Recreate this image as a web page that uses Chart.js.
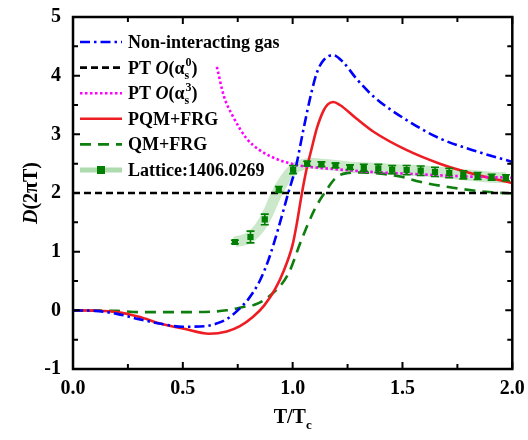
<!DOCTYPE html>
<html>
<head>
<meta charset="utf-8">
<script src="https://cdn.jsdelivr.net/npm/chart.js@4.4.0/dist/chart.umd.min.js"></script>
<style>
  html, body { margin: 0; padding: 0; background: #fff; }
  canvas { display: block; }
</style>
</head>
<body>
<canvas id="chart" width="528" height="440"></canvas>
<script>
// --- data (T/Tc vs D(2piT)) ---
const freeT = [0, 0.1, 0.2, 0.3, 0.4, 0.5, 0.6, 0.65, 0.7, 0.75, 0.8, 0.85, 0.89, 0.935, 0.98, 1.015, 1.05, 1.086, 1.11, 1.14, 1.185, 1.23, 1.29, 1.37, 1.52, 1.67, 1.82, 2.0];
const freeD = [0, -0.01, -0.06, -0.15, -0.23, -0.28, -0.27, -0.23, -0.15, 0.0, 0.2, 0.5, 0.86, 1.4, 2.0, 2.45, 3.1, 3.72, 4.05, 4.26, 4.35, 4.23, 3.95, 3.64, 3.24, 2.93, 2.73, 2.53];

const pt0T = [0, 2.0];
const pt0D = [2, 2];

const pt3T = [0.655, 0.687, 0.729, 0.79, 0.85, 0.94, 1.03, 1.15, 1.28, 1.4, 1.52, 1.73, 2.0];
const pt3D = [4.15, 3.65, 3.30, 2.93, 2.73, 2.56, 2.47, 2.42, 2.38, 2.35, 2.33, 2.29, 2.26];

const pqmT = [0, 0.1, 0.2, 0.3, 0.4, 0.5, 0.62, 0.7, 0.76, 0.82, 0.87, 0.92, 0.96, 1.0, 1.02, 1.04, 1.063, 1.086, 1.11, 1.14, 1.16, 1.185, 1.215, 1.29, 1.37, 1.52, 1.67, 1.82, 2.0];
const pqmD = [0, -0.005, -0.03, -0.11, -0.23, -0.31, -0.40, -0.36, -0.27, -0.11, 0.08, 0.36, 0.68, 1.12, 1.5, 1.95, 2.4, 2.75, 3.1, 3.4, 3.51, 3.55, 3.5, 3.27, 3.04, 2.73, 2.5, 2.33, 2.17];

const qmT = [0, 0.2, 0.3, 0.4, 0.55, 0.7, 0.79, 0.83, 0.9, 0.98, 1.04, 1.1, 1.145, 1.2, 1.25, 1.3, 1.4, 1.49, 1.58, 1.73, 1.88, 2.0];
const qmD = [0, -0.01, -0.03, -0.03, -0.03, 0.0, 0.07, 0.1, 0.26, 0.62, 1.2, 1.72, 2.0, 2.27, 2.34, 2.35, 2.33, 2.28, 2.19, 2.09, 2.02, 1.99];

const latT = [0.737, 0.808, 0.873, 0.937, 1.002, 1.066, 1.131, 1.195, 1.261, 1.324, 1.39, 1.453, 1.519, 1.583, 1.648, 1.713, 1.777, 1.842, 1.906, 1.971];
const latD = [1.165, 1.25, 1.55, 2.06, 2.40, 2.50, 2.49, 2.47, 2.44, 2.43, 2.42, 2.40, 2.39, 2.38, 2.36, 2.34, 2.31, 2.29, 2.27, 2.26];
const latErr = [0.03, 0.1, 0.09, 0.05, 0.07, 0.04, 0.04, 0.04, 0.04, 0.06, 0.07, 0.07, 0.08, 0.08, 0.08, 0.08, 0.07, 0.06, 0.05, 0.05];

const xTickLabels = ['0.0', '0.5', '1.0', '1.5', '2.0'];
const yTickLabels = ['-1', '0', '1', '2', '3', '4', '5'];

const FONT = '"Liberation Serif", "Times New Roman", serif';

const pts = (xs, ys) => xs.map((v, i) => ({ x: v, y: ys[i] }));

const BLUE = '#0000ff', BLACK = '#000000', PINK = '#ff00ff', RED = '#ee1d23', GREEN = '#0e7f0e';
const BAND = 'rgba(130,200,130,0.42)', MARK = '#007f00';

// draw text made of parts (italic / sub / sup) on the canvas
function richWidth(ctx, parts, size) {
  let w = 0;
  parts.forEach(p => {
    if (p.sub !== undefined) {
      ctx.font = `bold ${Math.round(size * 0.65)}px ${FONT}`;
      w += Math.max(ctx.measureText(p.sub).width, ctx.measureText(p.sup || '').width);
    } else {
      ctx.font = `${p.italic ? 'italic ' : ''}bold ${size}px ${FONT}`;
      w += ctx.measureText(p.t).width;
    }
  });
  return w;
}
function drawRich(ctx, parts, x, y, size) {
  ctx.textBaseline = 'alphabetic';
  ctx.textAlign = 'left';
  parts.forEach(p => {
    if (p.sub !== undefined) {
      ctx.font = `bold ${Math.round(size * 0.65)}px ${FONT}`;
      ctx.fillText(p.sub, x, y + size * 0.28);
      if (p.sup) ctx.fillText(p.sup, x + 1, y - size * 0.45);
      x += Math.max(ctx.measureText(p.sub).width, ctx.measureText(p.sup || '').width) + 1;
    } else {
      ctx.font = `${p.italic ? 'italic ' : ''}bold ${size}px ${FONT}`;
      ctx.fillText(p.t, x, y);
      x += ctx.measureText(p.t).width;
    }
  });
}

const legendRows = [
  { parts: [{ t: 'Non-interacting gas' }], color: BLUE, dash: [10, 4, 2.5, 4] },
  { parts: [{ t: 'PT ' }, { t: 'O', italic: true }, { t: '(α' }, { sub: 's', sup: '0' }, { t: ')' }], color: BLACK, dash: [7, 4] },
  { parts: [{ t: 'PT ' }, { t: 'O', italic: true }, { t: '(α' }, { sub: 's', sup: '3' }, { t: ')' }], color: PINK, dash: [2.5, 2.5] },
  { parts: [{ t: 'PQM+FRG' }], color: RED, dash: [] },
  { parts: [{ t: 'QM+FRG' }], color: GREEN, dash: [11, 7] },
  { parts: [{ t: 'Lattice:1406.0269' }], lattice: true }
];

const decorPlugin = {
  id: 'decor',
  afterDatasetsDraw(chart) {
    const { ctx, chartArea: a, scales: { x, y } } = chart;
    ctx.save();
    // error bars on lattice points
    ctx.strokeStyle = MARK;
    ctx.lineWidth = 1.6;
    latT.forEach((t, i) => {
      const px = x.getPixelForValue(t);
      const y1 = y.getPixelForValue(latD[i] + latErr[i]);
      const y2 = y.getPixelForValue(latD[i] - latErr[i]);
      ctx.beginPath();
      ctx.moveTo(px, y1); ctx.lineTo(px, y2);
      ctx.moveTo(px - 4, y1); ctx.lineTo(px + 4, y1);
      ctx.moveTo(px - 4, y2); ctx.lineTo(px + 4, y2);
      ctx.stroke();
    });

    // frame + inward ticks on all four sides
    ctx.strokeStyle = '#000';
    ctx.lineWidth = 2.5;
    ctx.strokeRect(a.left, a.top, a.right - a.left, a.bottom - a.top);
    ctx.lineWidth = 2;
    ctx.beginPath();
    for (let k = 0; k <= 8; k++) {
      const px = x.getPixelForValue(k * 0.25);
      const len = k % 2 === 0 ? 7 : 5;
      ctx.moveTo(px, a.bottom); ctx.lineTo(px, a.bottom - len);
      ctx.moveTo(px, a.top); ctx.lineTo(px, a.top + len);
    }
    for (let k = 0; k <= 12; k++) {
      const py = y.getPixelForValue(-1 + k * 0.5);
      const len = k % 2 === 0 ? 7 : 5;
      ctx.moveTo(a.left, py); ctx.lineTo(a.left + len, py);
      ctx.moveTo(a.right, py); ctx.lineTo(a.right - len, py);
    }
    ctx.stroke();

    // legend
    const lx0 = 80, lx1 = 122, tx = 128;
    legendRows.forEach((r, i) => {
      const ly = 42 + i * 25.6;
      ctx.save();
      if (r.lattice) {
        ctx.strokeStyle = 'rgba(120,195,120,0.6)';
        ctx.lineWidth = 5;
        ctx.beginPath(); ctx.moveTo(lx0, ly); ctx.lineTo(lx1, ly); ctx.stroke();
        ctx.fillStyle = MARK;
        ctx.fillRect((lx0 + lx1) / 2 - 4, ly - 4, 8, 8);
      } else {
        ctx.strokeStyle = r.color;
        ctx.lineWidth = 2.6;
        ctx.setLineDash(r.dash);
        ctx.beginPath(); ctx.moveTo(lx0, ly); ctx.lineTo(lx1, ly); ctx.stroke();
      }
      ctx.restore();
      ctx.fillStyle = '#000';
      drawRich(ctx, r.parts, tx, ly + 6, 18);
    });

    // axis titles
    ctx.fillStyle = '#000';
    const xt = [{ t: 'T/T' }, { sub: 'c' }];
    const xw = richWidth(ctx, xt, 20);
    drawRich(ctx, xt, (a.left + a.right) / 2 - xw / 2, 423, 20);

    const yt = [{ t: 'D', italic: true }, { t: '(2πT)' }];
    const yw = richWidth(ctx, yt, 20);
    ctx.translate(37, (a.top + a.bottom) / 2);
    ctx.rotate(-Math.PI / 2);
    drawRich(ctx, yt, -yw / 2, 0, 20);
    ctx.restore();
  }
};

const lineStyle = (color, dash) => ({
  borderColor: color, backgroundColor: color, borderWidth: 2.6, borderDash: dash,
  pointRadius: 0, cubicInterpolationMode: 'monotone', fill: false, order: 1
});

new Chart(document.getElementById('chart'), {
  type: 'line',
  data: {
    datasets: [
      { label: 'Lattice band', data: pts(latT, latD), borderColor: BAND, borderWidth: 11,
        pointRadius: 0, tension: 0.4, fill: false, order: 10 },
      { label: 'Non-interacting gas', data: pts(freeT, freeD), ...lineStyle(BLUE, [10, 4, 2.5, 4]) },
      { label: 'PT O(as^0)', data: pts(pt0T, pt0D), ...lineStyle(BLACK, [7, 4]), borderWidth: 2.5 },
      { label: 'PT O(as^3)', data: pts(pt3T, pt3D), ...lineStyle(PINK, [2.5, 2.5]) },
      { label: 'PQM+FRG', data: pts(pqmT, pqmD), ...lineStyle(RED, []) },
      { label: 'QM+FRG', data: pts(qmT, qmD), ...lineStyle(GREEN, [11, 7]) },
      { label: 'Lattice:1406.0269', data: pts(latT, latD), showLine: false, pointStyle: 'rect',
        pointRadius: 4.4, pointBackgroundColor: MARK, pointBorderColor: MARK, pointBorderWidth: 0, order: 0 }
    ]
  },
  options: {
    responsive: false,
    animation: false,
    layout: { padding: { left: 0, right: 15.7, top: 17, bottom: 0 } },
    plugins: { legend: { display: false }, tooltip: { enabled: false } },
    scales: {
      x: {
        type: 'linear', min: 0, max: 2,
        afterFit: s => { s.height = 71; s.paddingRight = 0; s.paddingLeft = 0; },
        grid: { display: false, drawTicks: false },
        border: { display: false },
        ticks: {
          stepSize: 0.5, padding: 8, color: '#000',
          font: { family: FONT, size: 20, weight: 'bold' },
          callback: (v, i) => xTickLabels[i]
        }
      },
      y: {
        type: 'linear', min: -1, max: 5,
        afterFit: s => { s.width = 73; s.paddingTop = 0; s.paddingBottom = 0; },
        grid: { display: false, drawTicks: false },
        border: { display: false },
        ticks: {
          stepSize: 1, padding: 12, color: '#000',
          font: { family: FONT, size: 20, weight: 'bold' },
          callback: (v, i) => yTickLabels[i]
        }
      }
    }
  },
  plugins: [decorPlugin]
});
</script>
</body>
</html>
